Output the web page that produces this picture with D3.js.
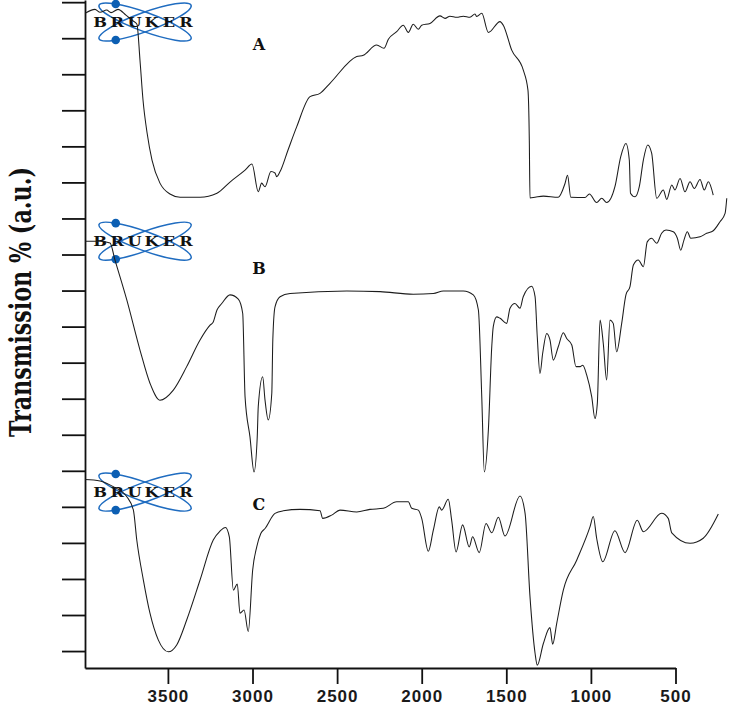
<!DOCTYPE html>
<html><head><meta charset="utf-8">
<script src="https://cdn.jsdelivr.net/npm/d3@7"></script>
<style>body{margin:0;background:#fff}svg{display:block}</style>
</head><body><svg id="c" width="735" height="709"></svg>
<script>
// ---------- data ----------
const xTicks = [3500, 3000, 2500, 2000, 1500, 1000, 500];
const yTicks = d3.range(0, 19);
const seriesNames = ["A", "B", "C"];

const wnA = [3990,3931,3901,3862,3836,3795,3748,3706,3683,3665,3647,3623,3594,3547,3488,3428,3310,3210,3133,3044,3003,2966,2946,2926,2891,2867,2857,2837,2790,2739,2660,2601,2542,2384,2345,2266,2223,2197,2148,2109,2079,2050,2020,2000,1951,1892,1862,1833,1793,1754,1715,1685,1675,1645,1606,1537,1518,1468,1400,1372,1364,1360,1330,1281,1193,1153,1138,1119,1035,1009,966,936,907,858,824,793,773,766,739,714,690,664,641,611,572,552,522,503,473,444,414,389,355,330,306,277];
const tA = [17.69,17.80,17.72,17.78,17.71,17.80,17.64,17.48,17.39,16.39,15.28,14.37,13.62,12.98,12.68,12.59,12.59,12.70,13.01,13.34,13.51,12.74,12.98,12.88,13.30,13.26,13.16,13.30,13.90,14.54,15.38,15.47,15.75,16.49,16.53,16.81,16.72,16.97,17.18,17.36,17.16,17.39,17.25,17.36,17.41,17.62,17.55,17.61,17.58,17.61,17.58,17.67,17.60,17.69,17.16,17.46,17.36,16.67,16.12,15.56,14.17,12.57,12.59,12.62,12.59,12.97,13.20,12.59,12.58,12.68,12.44,12.56,12.44,12.88,13.71,14.08,13.62,12.70,12.60,12.88,13.62,14.04,13.81,12.56,12.79,12.53,12.93,12.79,13.11,12.74,13.02,12.83,13.08,12.79,13.02,12.65];

const wnB = [3990,3901,3842,3813,3743,3665,3606,3547,3468,3389,3310,3251,3232,3210,3182,3133,3084,3058,3044,3015,2991,2972,2966,2940,2926,2907,2886,2880,2867,2837,2778,2443,2246,2050,1931,1872,1754,1695,1665,1645,1630,1606,1586,1577,1557,1537,1498,1478,1449,1419,1400,1350,1330,1317,1301,1285,1261,1242,1222,1193,1163,1143,1113,1088,1064,1048,1025,995,976,962,946,927,907,887,868,848,818,793,769,749,720,690,667,641,611,582,556,513,489,469,450,430,410,355,316,277,237,207,197];
const tB = [11.37,11.37,11.32,10.85,9.74,8.35,7.43,6.96,7.24,7.89,8.63,9.04,9.13,9.46,9.64,9.88,9.76,9.37,7.05,5.94,4.97,5.94,6.78,7.61,6.96,6.41,7.15,8.63,9.55,9.83,9.92,9.99,9.97,9.90,9.92,9.99,9.99,9.88,9.46,7.05,4.97,6.13,8.44,9.00,9.27,9.23,9.09,9.51,9.64,9.51,9.83,10.12,9.83,8.72,7.70,8.26,8.81,8.63,8.07,8.44,8.83,8.67,8.49,7.89,7.89,7.93,7.66,7.05,6.45,6.87,9.18,8.54,7.52,9.18,9.09,8.30,9.09,9.88,10.11,10.71,10.85,10.66,11.35,11.45,11.31,11.59,11.68,11.63,11.45,11.12,11.40,11.63,11.45,11.49,11.59,11.66,11.91,12.14,12.56];

const wnC = [3990,3901,3823,3743,3704,3684,3645,3606,3557,3498,3448,3389,3310,3232,3192,3160,3137,3113,3090,3074,3050,3025,2999,2975,2951,2926,2867,2818,2719,2601,2585,2532,2483,2384,2306,2227,2148,2079,2059,2020,2000,1961,1931,1896,1882,1843,1823,1797,1758,1719,1699,1660,1620,1586,1547,1508,1419,1389,1360,1330,1317,1281,1242,1226,1202,1163,1084,1005,986,966,930,858,798,726,690,582,543,522,414,336,247];
const tC = [4.76,4.72,4.56,4.28,3.91,3.08,1.97,1.05,0.31,-0.02,0.17,0.86,1.97,3.08,3.33,3.43,3.17,1.69,1.86,1.05,1.14,0.54,2.25,2.89,3.26,3.40,3.82,3.89,3.93,3.89,3.68,3.77,3.91,3.86,3.93,3.96,4.14,4.14,3.96,3.91,3.68,2.77,3.36,4.00,3.91,4.21,3.63,2.75,3.50,2.89,3.17,2.73,3.54,3.28,3.71,3.19,4.30,3.82,1.51,-0.06,-0.39,0.21,0.65,0.19,0.77,1.69,2.52,3.45,3.73,3.13,2.48,3.34,2.73,3.63,3.31,3.82,3.68,3.28,2.99,3.13,3.80];

// ---------- layout ----------
const svg = d3.select("#c");
const x = d3.scaleLinear().domain([3990, 500]).range([85, 675.5]);
const y = d3.scaleLinear().domain([-0.47, 18.06]).range([668, 0]);

const series = [[wnA, tA], [wnB, tB], [wnC, tC]].map(([w, t]) =>
  d3.range(Math.min(w.length, t.length)).map(i => ({wn: w[i], t: t[i]})));

// annotation placement (data coordinates)
const logoAnchor = [{wn: 3635, t: 17.45}, {wn: 3635, t: 11.37}, {wn: 3635, t: 4.41}];
const labelAnchor = [{wn: 2962, t: 16.67}, {wn: 2962, t: 10.46}, {wn: 2962, t: 3.91}];

// ---------- Bruker logos ----------
const logoBlue = "#1f6cc0";
const logoWord = "BRUKER".split("");
logoAnchor.forEach(p => {
  const cx = x(p.wn), cy = y(p.t);
  const g = svg.append("g").attr("transform", `translate(${cx},${cy})`);
  const a = 49, b = 9.5, th = 20;
  [th, -th].forEach(ang => {
    g.append("ellipse").attr("rx", a).attr("ry", b)
      .attr("transform", `rotate(${ang})`)
      .attr("fill", "none").attr("stroke", logoBlue).attr("stroke-width", 1.5);
  });
  [[th, -1], [-th, 1]].forEach(([ang, s]) => {
    const t = Math.PI * 133.5 / 180;
    const lx = a * Math.cos(t), ly = s * b * Math.abs(Math.sin(t));
    const r = ang * Math.PI / 180;
    const px = lx * Math.cos(r) - ly * Math.sin(r);
    const py = lx * Math.sin(r) + ly * Math.cos(r);
    g.append("circle").attr("cx", px).attr("cy", py).attr("r", 4.3).attr("fill", "#0c5fb3");
  });
  const step = 103 / 6;
  logoWord.forEach((ch, i) => {
    g.append("text").text(ch)
      .attr("transform", `translate(${-53.5 + step * (i + 0.5)},4.8) scale(1.3,1)`)
      .attr("text-anchor", "middle")
      .attr("font-family", "'DejaVu Serif', serif").attr("font-weight", "bold")
      .attr("font-size", 12.5).attr("fill", "#111");
  });
});

// ---------- axes ----------
const xAxis = svg.append("g").attr("transform", "translate(0,668)")
  .call(d3.axisBottom(x).tickValues(xTicks).tickSize(16).tickPadding(6).tickSizeOuter(0).tickFormat(d3.format("d")));
xAxis.selectAll("text")
  .attr("font-family", "'Liberation Sans', Arial, sans-serif").attr("font-weight", "bold")
  .attr("font-size", 17).attr("letter-spacing", 1).attr("fill", "#1a1a1a");

const yAxis = svg.append("g").attr("transform", "translate(85,0)")
  .call(d3.axisLeft(y).tickValues(yTicks).tickSize(23).tickFormat("").tickSizeOuter(0));

[xAxis, yAxis].forEach(g => {
  g.select(".domain").attr("stroke", "#111").attr("stroke-width", 1.8);
  g.selectAll(".tick line").attr("stroke", "#111").attr("stroke-width", 1.8);
});

// ---------- spectra ----------
const line = d3.line().x(d => x(d.wn)).y(d => y(d.t)).curve(d3.curveMonotoneX);
svg.append("g").selectAll("path").data(series).join("path")
  .attr("d", line).attr("fill", "none").attr("stroke", "#1c1c1c").attr("stroke-width", 1.05);

// ---------- labels ----------
svg.append("g").selectAll("text").data(seriesNames).join("text")
  .text(d => d)
  .attr("x", (d, i) => x(labelAnchor[i].wn)).attr("y", (d, i) => y(labelAnchor[i].t))
  .attr("text-anchor", "middle")
  .attr("font-family", "'DejaVu Serif', serif").attr("font-weight", "bold")
  .attr("font-size", 16).attr("fill", "#111");

svg.append("text").text("Transmission % (a.u.)")
  .attr("transform", "translate(31,302) rotate(-90)")
  .attr("text-anchor", "middle")
  .attr("font-family", "'DejaVu Serif', serif").attr("font-weight", "bold")
  .attr("font-size", 30).attr("textLength", 270).attr("lengthAdjust", "spacingAndGlyphs")
  .attr("fill", "#111");
</script>
</body></html>
